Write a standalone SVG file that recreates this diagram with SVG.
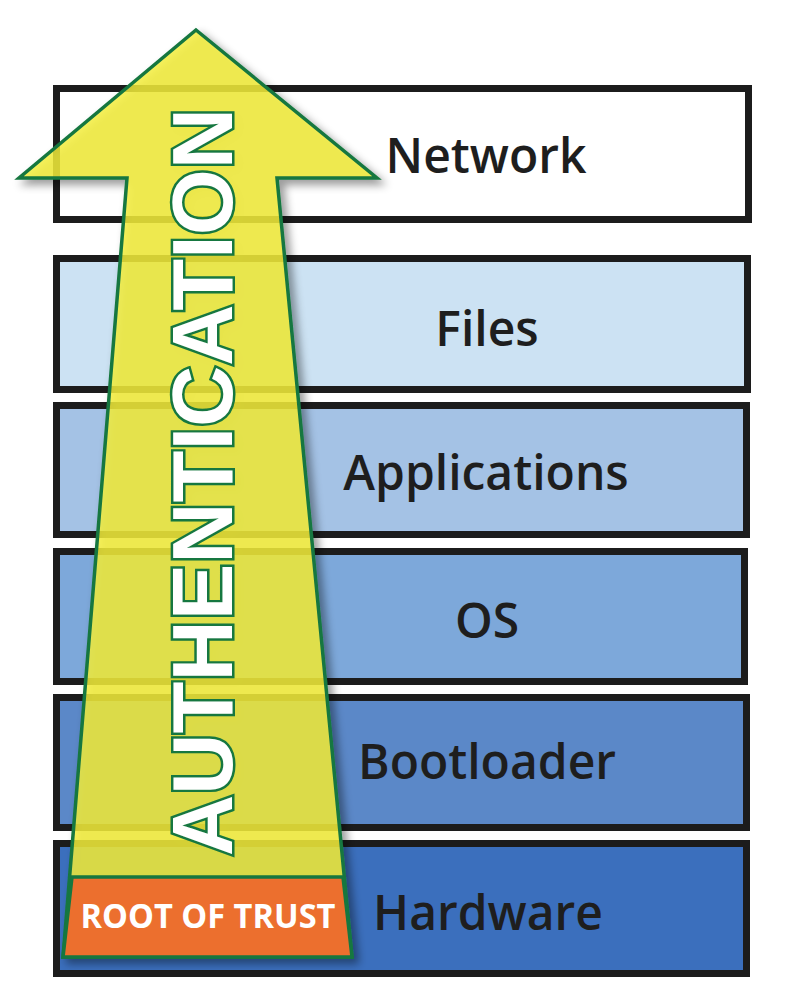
<svg xmlns="http://www.w3.org/2000/svg" width="792" height="1005" viewBox="0 0 792 1005">
  <style>
    .box { stroke: #1c1c1c; stroke-width: 7; }
    .lbl { font-family: "Open Sans", "Liberation Sans", sans-serif; font-weight: 600; font-size: 48px; fill: #1e1e1e; text-anchor: middle; }
    .arrow { fill: #f4ee3a; fill-opacity: 0.82; stroke: #16773f; stroke-width: 3.5; stroke-linejoin: miter; }
    .rot { fill: #ec6f2e; stroke: #16773f; stroke-width: 3.5; }
    .rottxt { font-family: "Open Sans", "Liberation Sans", sans-serif; font-weight: 700; font-size: 34px; fill: #ffffff; text-anchor: middle; }
    .auth { font-family: "Liberation Sans", Arial, sans-serif; font-weight: 700; font-size: 86px; fill: #ffffff; stroke: #16773f; stroke-width: 5; stroke-linejoin: miter; paint-order: stroke; text-anchor: middle; }
  </style>
  <defs>
    <filter id="shadow" x="-20%" y="-10%" width="140%" height="120%">
      <feDropShadow dx="5" dy="5" stdDeviation="4" flood-color="#000" flood-opacity="0.45"/>
    </filter>
  </defs>
  <rect width="792" height="1005" fill="#ffffff"/>

  <g id="network">
    <rect class="box" x="56.5" y="88.5" width="692" height="131" fill="#ffffff"/>
    <text class="lbl" x="486" y="173">Network</text>
  </g>
  <g id="files">
    <rect class="box" x="56.5" y="258.5" width="691" height="131" fill="#cce2f3"/>
    <text class="lbl" x="487" y="346">Files</text>
  </g>
  <g id="applications">
    <rect class="box" x="56.5" y="405.5" width="690" height="129" fill="#a4c2e5"/>
    <text class="lbl" x="486" y="490">Applications</text>
  </g>
  <g id="os">
    <rect class="box" x="56.5" y="551.5" width="688" height="130" fill="#7da8da"/>
    <text class="lbl" x="487" y="638">OS</text>
  </g>
  <g id="bootloader">
    <rect class="box" x="56.5" y="697.5" width="690" height="130" fill="#5b88c8"/>
    <text class="lbl" x="487" y="779">Bootloader</text>
  </g>
  <g id="hardware">
    <rect class="box" x="56.5" y="843.5" width="690" height="130" fill="#3b6fbd"/>
    <text class="lbl" x="488" y="930">Hardware</text>
  </g>

  <g id="authentication" filter="url(#shadow)">
    <polygon class="arrow" points="196,30 377,178 277,178 352,957 63,957 127,178 19,178"/>
    <text class="auth" transform="translate(232,482) rotate(-90)" textLength="748" lengthAdjust="spacingAndGlyphs">AUTHENTICATION</text>
  </g>
  <g id="root-of-trust">
    <polygon class="rot" points="72,877 343,877 352,957 63,957"/>
    <text class="rottxt" x="208" y="928" textLength="255" lengthAdjust="spacingAndGlyphs">ROOT OF TRUST</text>
  </g>
</svg>
